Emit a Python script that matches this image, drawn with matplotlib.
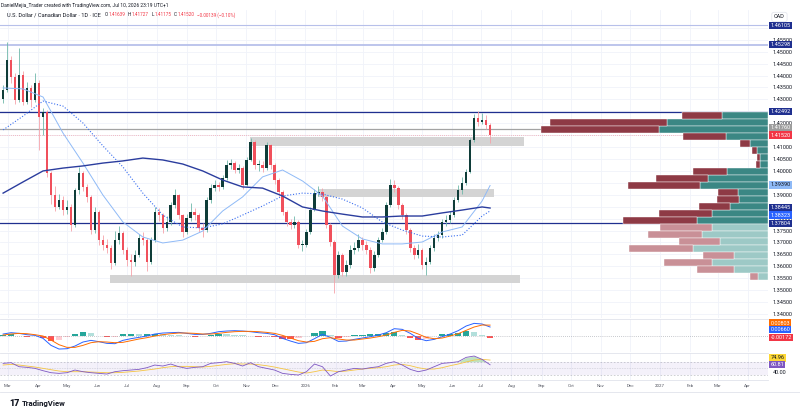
import numpy as np
import pandas as pd
import matplotlib
matplotlib.use("Agg")
import matplotlib.pyplot as plt
import matplotlib.dates as mdates
from matplotlib.lines import Line2D
from matplotlib.transforms import blended_transform_factory

plt.rcParams['font.family'] = ['Roboto', 'DejaVu Sans']

# ---- candles, one per three sessions ----
first_date = "2025-02-24"
last_date = "2026-07-10"
first_open = 1.4300
close = [1.4339, 1.4465, 1.4394, 1.4297, 1.4402, 1.4290, 1.4348, 1.4297, 1.4369, 1.4226,
         1.4247, 1.3991, 1.3900, 1.3849, 1.3878, 1.3836, 1.3849, 1.3773, 1.3920, 1.3991,
         1.3933, 1.3891, 1.3752, 1.3828, 1.3710, 1.3690, 1.3677, 1.3614, 1.3710, 1.3740,
         1.3669, 1.3627, 1.3618, 1.3648, 1.3719, 1.3710, 1.3618, 1.3710, 1.3828, 1.3815,
         1.3761, 1.3786, 1.3857, 1.3899, 1.3815, 1.3744, 1.3803, 1.3828, 1.3815, 1.3761,
         1.3752, 1.3878, 1.3928, 1.3941, 1.3933, 1.3970, 1.4025, 1.4033, 1.4004, 1.4012,
         1.3941, 1.4046, 1.4121, 1.4025, 1.4025, 1.4012, 1.4109, 1.4025, 1.3962, 1.3912,
         1.3828, 1.3786, 1.3773, 1.3786, 1.3690, 1.3690, 1.3744, 1.3836, 1.3908, 1.3912,
         1.3891, 1.3773, 1.3702, 1.3564, 1.3648, 1.3576, 1.3606, 1.3669, 1.3677, 1.3710,
         1.3690, 1.3669, 1.3593, 1.3648, 1.3710, 1.3744, 1.3857, 1.3941, 1.3928, 1.3857,
         1.3815, 1.3752, 1.3677, 1.3648, 1.3669, 1.3606, 1.3618, 1.3677, 1.3719, 1.3731,
         1.3786, 1.3794, 1.3815, 1.3878, 1.3920, 1.3950, 1.3996, 1.4130, 1.4222, 1.4205,
         1.4214, 1.4193, 1.4152]
high = [1.4360, 1.4542, 1.4480, 1.4410, 1.4516, 1.4420, 1.4375, 1.4362, 1.4411, 1.4380,
        1.4265, 1.4255, 1.4000, 1.3935, 1.3905, 1.3895, 1.3880, 1.3860, 1.3930, 1.4015,
        1.4000, 1.3945, 1.3900, 1.3850, 1.3835, 1.3730, 1.3715, 1.3690, 1.3750, 1.3770,
        1.3750, 1.3680, 1.3650, 1.3670, 1.3735, 1.3745, 1.3720, 1.3725, 1.3850, 1.3845,
        1.3825, 1.3810, 1.3870, 1.3925, 1.3905, 1.3820, 1.3820, 1.3865, 1.3845, 1.3825,
        1.3780, 1.3890, 1.3945, 1.3960, 1.3955, 1.3985, 1.4045, 1.4050, 1.4040, 1.4030,
        1.4020, 1.4060, 1.4140, 1.4130, 1.4045, 1.4040, 1.4120, 1.4115, 1.4035, 1.3970,
        1.3920, 1.3835, 1.3800, 1.3810, 1.3795, 1.3710, 1.3755, 1.3850, 1.3925, 1.3935,
        1.3930, 1.3900, 1.3780, 1.3710, 1.3665, 1.3655, 1.3625, 1.3690, 1.3700, 1.3735,
        1.3725, 1.3705, 1.3680, 1.3665, 1.3725, 1.3760, 1.3870, 1.3965, 1.3960, 1.3935,
        1.3865, 1.3825, 1.3760, 1.3690, 1.3695, 1.3675, 1.3640, 1.3690, 1.3735, 1.3750,
        1.3800, 1.3815, 1.3830, 1.3890, 1.3940, 1.3975, 1.4010, 1.4140, 1.4240, 1.4250,
        1.4245, 1.4235, 1.4200]
low = [1.4285, 1.4330, 1.4370, 1.4280, 1.4290, 1.4275, 1.4282, 1.4270, 1.4290, 1.4088,
       1.4150, 1.3975, 1.3860, 1.3830, 1.3840, 1.3815, 1.3820, 1.3750, 1.3765, 1.3905,
       1.3915, 1.3870, 1.3735, 1.3740, 1.3690, 1.3670, 1.3655, 1.3590, 1.3605, 1.3695,
       1.3650, 1.3600, 1.3560, 1.3600, 1.3640, 1.3690, 1.3580, 1.3610, 1.3700, 1.3790,
       1.3740, 1.3750, 1.3775, 1.3845, 1.3800, 1.3725, 1.3735, 1.3790, 1.3795, 1.3745,
       1.3725, 1.3745, 1.3865, 1.3915, 1.3915, 1.3925, 1.3960, 1.4010, 1.3990, 1.3990,
       1.3925, 1.3935, 1.4040, 1.4010, 1.4000, 1.3995, 1.4005, 1.4010, 1.3945, 1.3895,
       1.3815, 1.3770, 1.3755, 1.3760, 1.3675, 1.3665, 1.3680, 1.3735, 1.3830, 1.3895,
       1.3875, 1.3760, 1.3685, 1.3488, 1.3550, 1.3560, 1.3560, 1.3595, 1.3650, 1.3665,
       1.3670, 1.3650, 1.3570, 1.3580, 1.3640, 1.3700, 1.3735, 1.3850, 1.3910, 1.3840,
       1.3800, 1.3735, 1.3660, 1.3630, 1.3635, 1.3590, 1.3565, 1.3610, 1.3665, 1.3705,
       1.3720, 1.3770, 1.3780, 1.3805, 1.3870, 1.3905, 1.3940, 1.3990, 1.4120, 1.4190,
       1.4195, 1.4175, 1.4118]

# ---- moving averages, every 5th candle plus the last one ----
ma_idx = list(range(0, 121, 5)) + [122]
sma_fast = [1.4348, 1.4344, 1.4310, 1.4159, 1.4033, 1.3899, 1.3786, 1.3723, 1.3698, 1.3710,
            1.3748, 1.3832, 1.3891, 1.3975, 1.4004, 1.3958, 1.3895, 1.3769, 1.3715, 1.3694,
            1.3694, 1.3702, 1.3744, 1.3765, 1.3874, 1.39390]
ema_mid = [1.4172, 1.4230, 1.4293, 1.4272, 1.4201, 1.4105, 1.4017, 1.3907, 1.3815, 1.3765,
           1.3761, 1.3778, 1.3815, 1.3853, 1.3895, 1.3907, 1.3903, 1.3882, 1.3845, 1.3786,
           1.3752, 1.3727, 1.3723, 1.3731, 1.3811, 1.38323]
sma_slow = [1.3907, 1.3954, 1.4000, 1.4012, 1.4021, 1.4033, 1.4042, 1.4054, 1.4046, 1.4029,
            1.4000, 1.3962, 1.3933, 1.3928, 1.3895, 1.3849, 1.3832, 1.3819, 1.3807, 1.3807,
            1.3811, 1.3811, 1.3824, 1.3836, 1.3849, 1.38445]

# ---- MACD / RSI, every 2nd candle ----
macd_line = [0.00127, 0.00228, 0.00177, 0.00076, 0.00025, -0.00202, -0.00734, -0.01012, -0.00987, -0.00784,
             -0.00481, -0.00354, -0.00455, -0.00582, -0.00607, -0.00354, -0.00228, -0.00127, -0.00025, 0.00127,
             0.00202, 0.00228, 0.00253, 0.00177, 0.00101, 0.00101, 0.00177, 0.00304, 0.00354, 0.00380,
             0.00354, 0.00304, 0.00228, 0.00177, 0.00076, -0.00202, -0.00405, -0.00582, -0.00531, -0.00228,
             0.00101, -0.00127, -0.00430, -0.00405, -0.00278, -0.00177, -0.00076, 0.00051, 0.00228, 0.00531,
             0.00481, 0.00177, -0.00202, -0.00380, -0.00278, -0.00076, 0.00127, 0.00380, 0.00734, 0.00936,
             0.00886, 0.00660]
signal_line = [0.00051, 0.00127, 0.00177, 0.00152, 0.00076, -0.00025, -0.00329, -0.00683, -0.00886, -0.00886,
               -0.00734, -0.00531, -0.00455, -0.00481, -0.00531, -0.00506, -0.00380, -0.00253, -0.00152, -0.00025,
               0.00076, 0.00152, 0.00202, 0.00202, 0.00177, 0.00127, 0.00127, 0.00177, 0.00253, 0.00304,
               0.00329, 0.00329, 0.00304, 0.00253, 0.00177, 0.00025, -0.00177, -0.00380, -0.00481, -0.00430,
               -0.00228, -0.00152, -0.00253, -0.00329, -0.00329, -0.00253, -0.00177, -0.00076, 0.00051, 0.00253,
               0.00405, 0.00354, 0.00127, -0.00127, -0.00228, -0.00177, -0.00025, 0.00152, 0.00405, 0.00658,
               0.00810, 0.00803]
macd_hist_last = -0.00172
rsi = [65, 67, 55, 53, 50, 43, 37, 35, 37, 45,
       40, 37, 35, 33, 40, 43, 45, 47, 52, 60,
       57, 63, 55, 50, 53, 55, 65, 67, 70, 65,
       57, 67, 55, 50, 45, 35, 32, 30, 40, 63,
       55, 27, 40, 45, 50, 48, 52, 55, 65, 70,
       60, 47, 40, 45, 55, 65, 67, 70, 83, 87,
       77, 60.81]
rsi_ma = [60, 62, 60, 57, 54, 50, 46, 42, 40, 40,
          40, 39, 38, 37, 37, 38, 40, 42, 45, 48,
          52, 55, 56, 56, 55, 54, 56, 59, 62, 64,
          63, 63, 61, 58, 54, 49, 44, 39, 36, 40,
          45, 43, 40, 42, 45, 48, 50, 52, 55, 60,
          62, 58, 52, 48, 48, 52, 58, 63, 69, 75,
          77, 74.96]

# ---- volume profile rows, top to bottom ----
vp_top, vp_bottom = 1.4247, 1.3543
vp_down = [40, 117, 118, 43, 10, 5, 3, 4, 34, 52, 72, 20, 22, 31, 53, 74,
           52, 54, 41, 64, 31, 48, 37, 8]
vp_up = [46, 101, 109, 42, 18, 11, 8, 8, 41, 60, 68, 30, 29, 38, 56, 71,
         56, 66, 48, 75, 34, 56, 34, 10]
value_area_low = 1.37804
poc = 1.41760

# ---- levels and zones ----
level_prices = [1.46105, 1.45298, 1.42492, 1.37804]
zone_start = ["2025-11-05", "2026-01-14", "2025-06-14"]
zone_end = ["2026-08-14", "2026-07-14", "2026-08-10"]
zone_low = [1.4105, 1.3892, 1.3530]
zone_high = [1.4142, 1.3923, 1.3563]

UP, UP_WICK = '#0f3d39', '#6fb8aa'
DN, DN_WICK = '#f0505c', '#f6a2a9'
NAVY = '#1f2f8f'
RED = '#f23645'
INK = '#131722'

W, H = 800, 415
fig = plt.figure(figsize=(8, 4.15), dpi=100)


def pane(top, bottom, **kw):
    return fig.add_axes([0, 1 - bottom / H, 768 / W, (bottom - top) / H], **kw)


ax = pane(10, 318)
axm = pane(319, 352, sharex=ax)
axr = pane(353, 380, sharex=ax)

x0 = mdates.date2num(pd.Timestamp("2025-03-01")) - 8.2
ax.set_xlim(x0, x0 + 768 / 0.972)
ax.set_ylim(1.33834, 1.46748)
axm.set_ylim(-0.01237, 0.01267)
axr.set_ylim(15.1, 96.1)

for a in (ax, axm, axr):
    for s in a.spines.values():
        s.set_visible(False)
    a.tick_params(length=0, labelsize=4, colors=INK)
    a.xaxis.set_major_locator(mdates.MonthLocator())
    a.grid(axis='x', color='#f0f3fa', lw=0.6)
    a.set_axisbelow(True)
for a, sides in ((axm, ['top']), (axr, ['top', 'bottom'])):
    for sd in sides:
        a.spines[sd].set_visible(True)
        a.spines[sd].set_color('#e0e3eb')
        a.spines[sd].set_linewidth(0.6)
ax.tick_params(labelbottom=False)
axm.tick_params(labelbottom=False)
axr.xaxis.set_major_formatter(plt.FuncFormatter(
    lambda v, p: str(mdates.num2date(v).year) if mdates.num2date(v).month == 1
    else mdates.num2date(v).strftime('%b')))
axr.tick_params(axis='x', labelsize=3.2, pad=2.8, colors='#50535e')

# ---- candles ----
dates = pd.date_range(first_date, last_date, periods=len(close))
xd = mdates.date2num(dates)
c = np.array(close)
o = np.concatenate([[first_open], c[:-1]])
up = c >= o
ax.vlines(xd, low, high, colors=np.where(up, UP_WICK, DN_WICK), lw=0.6, zorder=3)
ax.bar(xd, np.maximum(np.abs(c - o), 0.0003), bottom=np.minimum(o, c), width=2.6,
       color=np.where(up, UP, DN), lw=0, zorder=3)

# moving averages
xm = xd[ma_idx]
ax.plot(xm, sma_fast, color='#8fbaf7', lw=0.7, zorder=4)
ax.plot(xm, ema_mid, color='#3b6ff0', lw=0.8, ls=(0, (1, 1.6)), zorder=4)
ax.plot(xm, sma_slow, color='#2b3d9e', lw=1.0, zorder=4)

# levels and zones
ax.set_yticks(np.arange(1.34, 1.4601, 0.005))
ax.grid(axis='y', color='#f0f3fa', lw=0.6)
for p, lc, lw in zip(level_prices, ['#b7c0ea', '#b7c0ea', NAVY, NAVY], [0.8, 1.3, 0.9, 0.9]):
    ax.axhline(p, color=lc, lw=lw, zorder=2)
ax.axhline(poc, color='#a3a3a3', lw=0.9, zorder=2)
ax.axhline(close[-1], color=RED, lw=0.5, ls=(0, (1, 2)), alpha=0.6, zorder=2)
for zs, ze, zl, zh in zip(zone_start, zone_end, zone_low, zone_high):
    a0, a1 = mdates.date2num(pd.Timestamp(zs)), mdates.date2num(pd.Timestamp(ze))
    ax.fill_between([a0, a1], zl, zh, color='#d4d4d4', lw=0, zorder=1)

# volume profile anchored on the right edge
vp = ax.twiny()
vp.set_xlim(768, 0)
vp.axis('off')
edges = np.linspace(vp_top, vp_bottom, len(vp_up) + 1)
mid = (edges[:-1] + edges[1:]) / 2
hgt = edges[0] - edges[1]
dark = mid >= value_area_low
vp.barh(mid, vp_up, height=hgt, color=np.where(dark, '#3b8784', '#9dc9c6'),
        edgecolor='white', lw=0.3)
vp.barh(mid, vp_down, left=vp_up, height=hgt, color=np.where(dark, '#8e3a45', '#c99097'),
        edgecolor='white', lw=0.3)

# ---- MACD ----
xo = xd[::2]
m = np.array(macd_line)
s = np.array(signal_line)
hist = m - s
hist[-1] = macd_hist_last
prev = np.concatenate([[hist[0]], hist[:-1]])
hcol = np.where(hist >= 0, np.where(hist >= prev, '#26a69a', '#b2dfdb'),
                np.where(hist < prev, '#ff5252', '#ffcdd2'))
axm.axhline(0, color='#9598a1', lw=0.5, ls=(0, (1, 2)))
axm.bar(xo, hist, width=6.5, color=hcol, lw=0)
axm.plot(xo, m, color='#2962ff', lw=0.7)
axm.plot(xo, s, color='#ff6d00', lw=0.7)
axm.set_yticks([])

# ---- RSI ----
axr.axhspan(30, 70, color='#7e57c2', alpha=0.08, lw=0)
for lvl, st in [(70, (0, (3, 3))), (50, (0, (1, 2))), (30, (0, (3, 3)))]:
    axr.axhline(lvl, color='#9598a1', lw=0.4, ls=st, alpha=0.8)
r = np.array(rsi, dtype=float)
axr.fill_between(xo, 70, r, where=r > 70, color='#4caf50', alpha=0.35, lw=0, interpolate=True)
axr.plot(xo, rsi_ma, color='#f5c542', lw=0.6)
axr.plot(xo, r, color='#7e57c2', lw=0.6)
axr.yaxis.tick_right()
axr.set_yticks([40])
axr.yaxis.set_major_formatter(plt.FormatStrFormatter('%.2f'))
axr.tick_params(axis='y', pad=3.5, labelsize=4)

# ---- right price scale ----
ax.yaxis.tick_right()
ax.tick_params(axis='y', pad=3.5, labelsize=4)
tags = [(level_prices[0], NAVY, 'white', 0), (level_prices[1], NAVY, 'white', 0),
        (level_prices[2], NAVY, 'white', 0), (poc, '#9e9e9e', 'white', 0.8),
        (close[-1], RED, 'white', -0.3), (sma_fast[-1], '#8fbaf7', INK, 0.5),
        (sma_slow[-1], NAVY, 'white', 0.3), (ema_mid[-1], '#2962ff', 'white', -3.0),
        (level_prices[3], NAVY, 'white', -0.3)]
ax.yaxis.set_major_formatter(plt.FuncFormatter(
    lambda v, p: '' if min(abs(v - t[0]) for t in tags) < 0.0015 else f'{v:.5f}'))


def tag(axis, y, text, fc, tc, dy=0):
    axis.annotate(text, xy=(1, y), xycoords=blended_transform_factory(axis.transAxes, axis.transData),
                  xytext=(1.8, dy), textcoords='offset points', ha='left', va='center',
                  fontsize=4, color=tc, annotation_clip=False,
                  bbox=dict(boxstyle='square,pad=0.22', fc=fc, ec='none'))


for p, fc, tc, dy in tags:
    tag(ax, p, f'{p:.5f}', fc, tc, dy)
ax.annotate('USDCAD', xy=(1, close[-1]),
            xycoords=blended_transform_factory(ax.transAxes, ax.transData),
            xytext=(-1, -0.3), textcoords='offset points', ha='right', va='center',
            fontsize=4, color='white', bbox=dict(boxstyle='square,pad=0.22', fc=RED, ec='none'))
tag(axm, signal_line[-1], f'{signal_line[-1]:.5f}', '#ff6d00', 'white', dy=1.5)
tag(axm, macd_line[-1], f'{macd_line[-1]:.5f}', '#2962ff', 'white', dy=-1.8)
tag(axm, macd_hist_last, f'{macd_hist_last:.5f}', RED, 'white', dy=0.3)
tag(axr, rsi_ma[-1], f'{rsi_ma[-1]:.2f}', '#fdd835', INK, dy=1.6)
tag(axr, rsi[-1], f'{rsi[-1]:.2f}', '#7e57c2', 'white')
fig.text(774 / W, 1 - 17 / H, 'CAD', fontsize=4, color=INK, va='center',
         bbox=dict(boxstyle='round,pad=0.4', fc='white', ec='#e0e3eb', lw=0.5))

# ---- header ----
fig.text(1 / W, 1 - 5 / H, 'DanielMejia_Trader created with TradingView.com, Jul 10, 2026 23:19 UTC+1',
         fontsize=3.5, color=INK, va='center')
pieces = [('O', INK, 3), ('1.41639', RED, 0.2), ('H', INK, 2), ('1.41727', RED, 0.2),
          ('L', INK, 2), ('1.41175', RED, 0.2), ('C', INK, 2), ('1.41520', RED, 0.2),
          ('\u22120.00139 (\u22120.10%)', RED, 2)]
prev_t = fig.text(7 / W, 1 - 15 / H, 'U.S. Dollar / Canadian Dollar \u00b7 1D \u00b7 ICE',
                  fontsize=4.1, color=INK, va='center')
for txt, col, gap in pieces:
    prev_t = ax.annotate(txt, xy=(1, 0.5), xycoords=prev_t, xytext=(gap, 0),
                         textcoords='offset points', fontsize=3.3, color=col,
                         va='center', ha='left', annotation_clip=False)

fig.add_artist(Line2D([0, 1], [1 - 392 / H] * 2, color='#e0e3eb', lw=0.6))
fig.text(9 / W, 1 - 403 / H, '17', fontsize=6.5, fontweight='heavy', color=INK, va='center')
fig.text(22 / W, 1 - 403 / H, 'TradingView', fontsize=5.6, fontweight='bold', color=INK, va='center')

fig.savefig('out.png', dpi=100, facecolor='white')
